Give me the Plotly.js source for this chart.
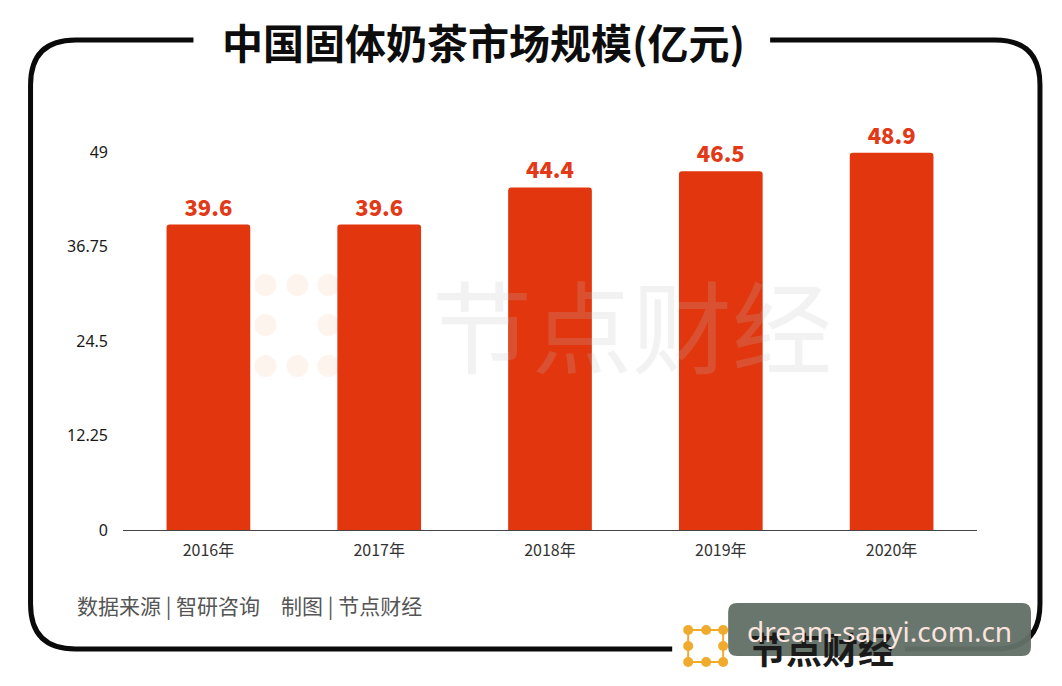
<!DOCTYPE html>
<html>
<head>
<meta charset="utf-8">
<script src="https://cdn.plot.ly/plotly-3.0.1.min.js"></script>
<style>html,body{margin:0;padding:0;background:#fff;}#chart{width:1062px;height:686px;}</style>
</head>
<body>
<div id="chart"></div>
<script>
// ---- data ----
const years = ["2016年", "2017年", "2018年", "2019年", "2020年"];
const marketSize = [39.6, 39.6, 44.4, 46.5, 48.9];
const yTickVals = [0, 12.25, 24.5, 36.75, 49];
const yTickText = ["0", "12.25", "24.5", "36.75", "49"];
const titleText = "中国固体奶茶市场规模(亿元)";
const sourceText = "数据来源 | 智研咨询　制图 | 节点财经";
const brandText = "节点财经";
const stampText = "dream-sanyi.com.cn";

// ---- geometry helpers (pixel -> paper) ----
const L = 122.5, R = 977, T = 152, B = 530;
const px = x => (x - L) / (R - L);
const py = y => (B - y) / (B - T);
const P = (x, y) => px(x).toFixed(5) + "," + py(y).toFixed(5);

const bl = 30, br = 1040, bt = 40, bb = 649, rr = 45;
const path1 = "M" + P(193, bt) + " L" + P(bl + rr, bt) + " Q" + P(bl, bt) + " " + P(bl, bt + rr) +
  " L" + P(bl, bb - rr) + " Q" + P(bl, bb) + " " + P(bl + rr, bb) + " L" + P(672, bb);
const path2 = "M" + P(770, bt) + " L" + P(br - rr, bt) + " Q" + P(br, bt) + " " + P(br, bt + rr) +
  " L" + P(br, bb - rr) + " Q" + P(br, bb) + " " + P(br - rr, bb) + " L" + P(905, bb);

const shapes = [
  {type: "path", xref: "paper", yref: "paper", path: path1, line: {color: "#0a0a0a", width: 5}},
  {type: "path", xref: "paper", yref: "paper", path: path2, line: {color: "#0a0a0a", width: 5}}
];

// logo dots (bottom right)
const dotX = [688, 706, 723], dotY = [630, 646, 662];
const dotPos = [[0,0],[1,0],[2,0],[0,1],[2,1],[0,2],[1,2],[2,2]];
const lineSegs = [[[0,0],[2,0]],[[0,2],[2,2]],[[0,0],[0,2]],[[2,0],[2,2]]];
lineSegs.forEach(s => shapes.push({type: "line", xref: "paper", yref: "paper",
  x0: px(dotX[s[0][0]]), y0: py(dotY[s[0][1]]), x1: px(dotX[s[1][0]]), y1: py(dotY[s[1][1]]),
  line: {color: "#f0ab2e", width: 2}}));
dotPos.forEach(d => {
  const cx = dotX[d[0]], cy = dotY[d[1]], r = 5;
  shapes.push({type: "circle", xref: "paper", yref: "paper",
    x0: px(cx - r), x1: px(cx + r), y0: py(cy + r), y1: py(cy - r),
    fillcolor: "#f0ab2e", line: {width: 0}});
});

// faint watermark dots in plot
const wX = [265, 297, 328], wY = [285, 325, 366];
dotPos.forEach(d => {
  const cx = wX[d[0]], cy = wY[d[1]], r = 11;
  shapes.push({type: "circle", xref: "paper", yref: "paper", layer: "below",
    x0: px(cx - r), x1: px(cx + r), y0: py(cy + r), y1: py(cy - r),
    fillcolor: "rgba(248,220,200,0.3)", line: {width: 0}});
});

const boxPath = (x0, y0, x1, y1, r) => "M" + P(x0 + r, y0) + " L" + P(x1 - r, y0) + " Q" + P(x1, y0) + " " + P(x1, y0 + r) +
  " L" + P(x1, y1 - r) + " Q" + P(x1, y1) + " " + P(x1 - r, y1) + " L" + P(x0 + r, y1) +
  " Q" + P(x0, y1) + " " + P(x0, y1 - r) + " L" + P(x0, y0 + r) + " Q" + P(x0, y0) + " " + P(x0 + r, y0) + " Z";

const annotations = [
  {text: "<b>" + titleText + "</b>", xref: "paper", yref: "paper", x: px(483), y: py(41),
   xanchor: "center", yanchor: "middle", showarrow: false,
   font: {family: "Noto Sans CJK SC", size: 41, color: "#0d0d0d", weight: 900}},
  {text: sourceText, xref: "paper", yref: "paper", x: px(74), y: py(605),
   xanchor: "left", yanchor: "middle", showarrow: false,
   font: {family: "Noto Sans CJK SC", size: 21, color: "#555"}},
  {text: brandText, xref: "paper", yref: "paper", x: px(748), y: py(648),
   xanchor: "left", yanchor: "middle", showarrow: false,
   font: {family: "Noto Sans CJK SC", size: 36, color: "#1a1a1a", weight: 700}},
  {text: brandText, xref: "paper", yref: "paper", x: px(632), y: py(322),
   xanchor: "center", yanchor: "middle", showarrow: false,
   font: {family: "Noto Sans CJK SC", size: 100, color: "rgba(190,190,190,0.2)"}}
];

const trace = {
  type: "bar", x: years, y: marketSize,
  marker: {color: "#e2360f", cornerradius: 3},
  text: marketSize.map(v => v.toFixed(1)), textposition: "outside",
  textfont: {family: "Noto Sans CJK SC", size: 22, color: "#e23a18", weight: 900},
  cliponaxis: false, hoverinfo: "none"
};

const layout = {
  width: 1062, height: 686,
  margin: {l: L, r: 1062 - R, t: T, b: 686 - B, pad: 0},
  paper_bgcolor: "#ffffff", plot_bgcolor: "rgba(0,0,0,0)",
  showlegend: false, bargap: 0.51,
  font: {family: "Noto Sans CJK SC", color: "#333"},
  xaxis: {showline: true, linecolor: "#444", linewidth: 1, showgrid: false, zeroline: false,
    ticks: "", tickfont: {size: 16, color: "#333", family: "Noto Sans CJK SC"}, ticklabelstandoff: 6, fixedrange: true},
  yaxis: {range: [0, 49], tickvals: yTickVals, ticktext: yTickText, showgrid: false, zeroline: false,
    showline: false, ticks: "", ticklabelstandoff: 14,
    tickfont: {size: 16, color: "#1a1a1a", family: "Noto Sans"}, fixedrange: true},
  shapes: shapes,
  annotations: annotations
};

Plotly.newPlot("chart", [trace], layout, {displayModeBar: false, staticPlot: true}).then(() => {
  const s = layout.shapes.slice();
  s.push({type: "path", xref: "paper", yref: "paper", layer: "above", path: boxPath(728, 603, 1031, 656, 9),
    fillcolor: "rgba(98,112,104,0.96)", line: {width: 0}});
  const a = layout.annotations.slice();
  a.push({text: stampText, xref: "paper", yref: "paper", x: px(879), y: py(631),
    xanchor: "center", yanchor: "middle", showarrow: false,
    font: {family: "Noto Sans", size: 28, color: "#fbe4de"}});
  return Plotly.relayout("chart", {shapes: s, annotations: a});
});
</script>
</body>
</html>
